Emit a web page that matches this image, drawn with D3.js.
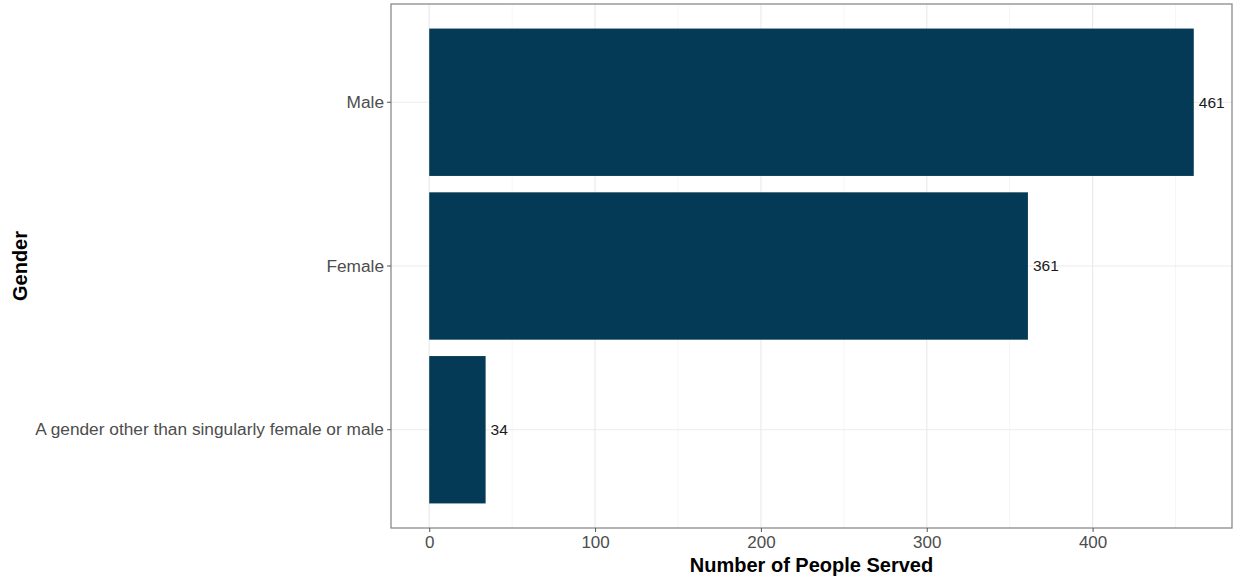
<!DOCTYPE html>
<html>
<head>
<meta charset="utf-8">
<script src="https://cdn.jsdelivr.net/npm/d3@7"></script>
<style>
  body { margin: 0; background: #fff; }
  svg text { font-family: "Liberation Sans", Arial, sans-serif; }
</style>
</head>
<body>
<div id="chart"></div>
<script>
// data
var categories = ["Male", "Female", "A gender other than singularly female or male"];
var values = [461, 361, 34];
var xTicks = [0, 100, 200, 300, 400];
var xMinor = [50, 150, 250, 350, 450];

var W = 1241, H = 579;
var panel = { left: 391, right: 1232, top: 4, bottom: 528 };

var svg = d3.select("#chart").append("svg")
    .attr("width", W)
    .attr("height", H);

var maxV = d3.max(values);
var x = d3.scaleLinear()
    .domain([-0.05 * maxV, maxV * 1.05])
    .range([panel.left, panel.right]);

// ggplot style discrete axis: 0.6 expansion each side
var y = d3.scaleBand()
    .domain(categories)
    .range([panel.top, panel.bottom])
    .paddingInner(0.1)
    .paddingOuter(0.15);

// grid
var grid = svg.append("g");
grid.selectAll(".minor").data(xMinor).enter().append("line")
    .attr("x1", d => x(d)).attr("x2", d => x(d))
    .attr("y1", panel.top).attr("y2", panel.bottom)
    .style("stroke", "#f4f4f4").style("stroke-width", 0.8);
grid.selectAll(".major").data(xTicks).enter().append("line")
    .attr("x1", d => x(d)).attr("x2", d => x(d))
    .attr("y1", panel.top).attr("y2", panel.bottom)
    .style("stroke", "#ebebeb").style("stroke-width", 1.2);
grid.selectAll(".ymajor").data(categories).enter().append("line")
    .attr("x1", panel.left).attr("x2", panel.right)
    .attr("y1", d => y(d) + y.bandwidth() / 2).attr("y2", d => y(d) + y.bandwidth() / 2)
    .style("stroke", "#ebebeb").style("stroke-width", 1.2);

// bars
svg.selectAll(".bar").data(categories).enter().append("rect")
    .attr("x", x(0))
    .attr("y", d => y(d))
    .attr("width", (d, i) => x(values[i]) - x(0))
    .attr("height", y.bandwidth())
    .style("fill", "#043a56");

// value labels
svg.selectAll(".lbl").data(categories).enter().append("text")
    .attr("x", (d, i) => x(values[i]) + 5)
    .attr("y", d => y(d) + y.bandwidth() / 2)
    .attr("dy", "0.35em")
    .style("font-size", "15.5px")
    .style("fill", "#1a1a1a")
    .text((d, i) => values[i]);

// panel border
svg.append("rect")
    .attr("x", panel.left).attr("y", panel.top)
    .attr("width", panel.right - panel.left)
    .attr("height", panel.bottom - panel.top)
    .style("fill", "none")
    .style("stroke", "#8a8a8a")
    .style("stroke-width", 1.3);

// x axis
var xAxis = svg.append("g")
    .attr("transform", "translate(0," + panel.bottom + ")")
    .call(d3.axisBottom(x).tickValues(xTicks).tickSize(4).tickPadding(4));
xAxis.select(".domain").remove();
xAxis.selectAll("line").style("stroke", "#555");
xAxis.selectAll("text").style("font-size", "17px").style("fill", "#4d4d4d")
    .style("font-family", "Liberation Sans, Arial, sans-serif");

// y axis
var yAxis = svg.append("g")
    .attr("transform", "translate(" + panel.left + ",0)")
    .call(d3.axisLeft(y).tickSize(4).tickPadding(3));
yAxis.select(".domain").remove();
yAxis.selectAll("line").style("stroke", "#555");
yAxis.selectAll("text").style("font-size", "17.3px").style("fill", "#4d4d4d")
    .style("font-family", "Liberation Sans, Arial, sans-serif");

// axis titles
svg.append("text")
    .attr("x", (panel.left + panel.right) / 2)
    .attr("y", 572)
    .attr("text-anchor", "middle")
    .style("font-size", "20px")
    .style("font-weight", "bold")
    .style("fill", "#000")
    .text("Number of People Served");

svg.append("text")
    .attr("transform", "translate(27," + (panel.top + panel.bottom) / 2 + ") rotate(-90)")
    .attr("text-anchor", "middle")
    .style("font-size", "20px")
    .style("font-weight", "bold")
    .style("fill", "#000")
    .text("Gender");
</script>
</body>
</html>
